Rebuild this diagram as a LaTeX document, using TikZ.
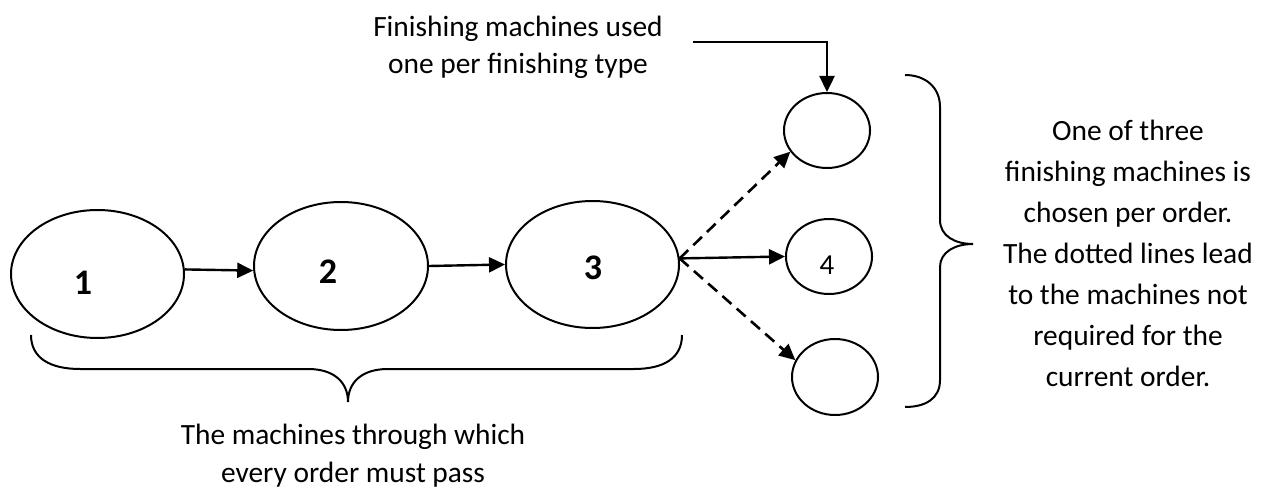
\documentclass[tikz,border=0pt]{standalone}
\usepackage{fontspec}
\setmainfont{Carlito}
\usetikzlibrary{arrows.meta,shapes.geometric}

\begin{document}
\begin{tikzpicture}[x=1pt,y=1pt,
  mach/.style={draw, ellipse, line width=2pt, inner sep=0pt},
  bignum/.style={font=\fontsize{36}{40}\selectfont\bfseries, inner sep=0pt},
  smallnum/.style={font=\fontsize{29}{32}\selectfont, inner sep=0pt},
  note/.style={align=center, inner sep=0pt},
  flow/.style={line width=2.4pt, -{Triangle[length=16pt,width=15pt]}},
  skip/.style={flow, line width=2.6pt, dash pattern=on 12pt off 7pt},
  bracket/.style={line width=2pt}]

\useasboundingbox (0,0) rectangle (1265,488);

% main line of machines
\node[mach, minimum width=173pt, minimum height=128pt] (m1) at (97.5,214) {};
\node[mach, minimum width=174pt, minimum height=128pt] (m2) at (341,222) {};
\node[mach, minimum width=173pt, minimum height=127pt] (m3) at (592.5,223.5) {};
\node[bignum] (l1) at (83,205) {1};
\node[bignum] (l2) at (328,216) {2};
\node[bignum] (l3) at (593,220) {3};

% finishing machines
\node[mach, minimum width=86pt, minimum height=75pt] (f1) at (827,357.5) {};
\node[mach, minimum width=86pt, minimum height=75pt] (f2) at (829,231.5) {};
\node[mach, minimum width=86pt, minimum height=76pt] (f3) at (835,111) {};
\node[smallnum] (l4) at (827,223) {4};

% flow between machines
\draw[flow] (m1.3) -- (m2.183);
\draw[flow] (m2.east) -- (m3.west);
\coordinate (hub) at (m3.4);
\draw[flow] (hub) -- (f2.west);
\draw[skip] (hub) -- (f1.210);
\draw[skip] (hub) -- (f3.157);

% callout for the finishing machines
\node[note, font=\fontsize{29.4}{37}\selectfont] (top) at (518,440.5)
  {Finishing machines used\\one per finishing type};
\coordinate (cstart) at (693,446);
\draw[flow] (cstart) -| (f1.north);

% brace on the right
\draw[bracket] (905,413) .. controls (925,413) and (940,401) .. (940,381)
  -- (940,268) .. controls (940,252) and (955,244) .. (973,244)
  .. controls (955,244) and (940,236) .. (940,221)
  -- (940,108) .. controls (940,89) and (925,81) .. (905,81);
\node[note, font=\fontsize{29.4}{41}\selectfont] (right) at (1128,235)
  {One of three\\finishing machines is\\chosen per order.\\The dotted lines lead\\to the machines not\\required for the\\current order.};

% brace below the main line
\draw[bracket] (31,153) .. controls (31,130) and (50,119) .. (80,119)
  -- (308,119) .. controls (335,119) and (348,105) .. (348,86)
  .. controls (348,105) and (361,119) .. (388,119)
  -- (634,119) .. controls (664,119) and (682,130) .. (682,153);
\node[note, font=\fontsize{29.4}{38}\selectfont] (bottom) at (353,32)
  {The machines through which\\every order must pass};

\end{tikzpicture}
\end{document}
